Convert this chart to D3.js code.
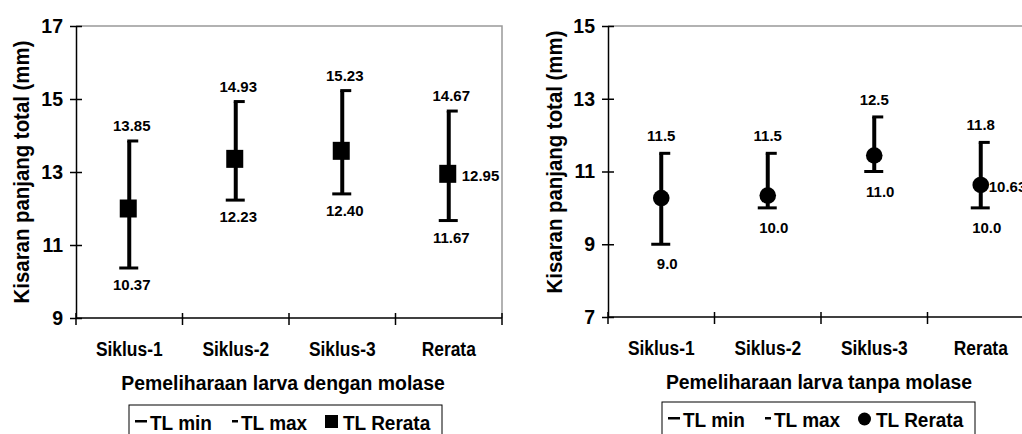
<!DOCTYPE html>
<html>
<head>
<meta charset="utf-8">
<script src="https://cdn.jsdelivr.net/npm/d3@7"></script>
<style>
  body { margin: 0; background: #fff; }
  svg text { font-family: "Liberation Sans", Arial, sans-serif; font-weight: bold; fill: #000; }
</style>
</head>
<body>
<script>
// data
const categories = ['Siklus-1', 'Siklus-2', 'Siklus-3', 'Rerata'];

const molaseMin  = [10.37, 12.23, 12.40, 11.67];
const molaseMax  = [13.85, 14.93, 15.23, 14.67];
const molaseMean = [12.00, 13.36, 13.58, 12.95];

const tanpaMin  = [9.0, 10.0, 11.0, 10.0];
const tanpaMax  = [11.5, 11.5, 12.5, 11.8];
const tanpaMean = [10.27, 10.34, 11.44, 10.63];

const ticksMolase = [9, 11, 13, 15, 17];
const ticksTanpa  = [7, 9, 11, 13, 15];

const legendLabels = ['TL min', 'TL max', 'TL Rerata'];

const svg = d3.select('body').append('svg')
    .attr('width', 1022)
    .attr('height', 434);

// text in the picture is a bit taller than Arial, so stretch it vertically
function putText(sel, x, y, size, sy) {
    return sel.attr('transform', d => {
        const X = typeof x == 'function' ? x(d) : x;
        const Y = typeof y == 'function' ? y(d) : y;
        return `translate(${X},${Y}) scale(1,${sy})`;
    }).style('font-size', size + 'px');
}

function drawChart(cfg) {
    const x = d3.scaleBand().domain(categories).range([cfg.left, cfg.right]);
    const y = d3.scaleLinear().domain(cfg.domain).range([cfg.bottom, cfg.top]);
    const g = svg.append('g');

    const rows = categories.map((c, i) => ({
        cat: c, min: cfg.min[i], max: cfg.max[i], mean: cfg.mean[i], last: i == categories.length - 1
    }));

    // plot frame (gray top / right)
    g.append('path')
        .attr('d', `M${cfg.left},${cfg.top}H${cfg.right}V${cfg.bottom}`)
        .attr('fill', 'none')
        .attr('stroke', '#999')
        .attr('stroke-width', 1.5);

    // y axis
    const yAxis = g.append('g')
        .attr('transform', `translate(${cfg.left},0)`)
        .call(d3.axisLeft(y).tickValues(cfg.ticks).tickSize(6).tickPadding(7).tickSizeOuter(0));
    yAxis.select('.domain').attr('stroke-width', 1.5);
    yAxis.selectAll('.tick line').attr('x1', 6).attr('stroke-width', 1.5);
    yAxis.selectAll('.tick text')
        .style('font-size', '19.5px')
        .attr('font-family', null);

    // x axis line + boundary ticks
    g.append('line')
        .attr('x1', cfg.left).attr('x2', cfg.right)
        .attr('y1', cfg.bottom).attr('y2', cfg.bottom)
        .attr('stroke', '#000').attr('stroke-width', 1.5);
    const bounds = categories.map(c => x(c)).concat([x.range()[1]]);
    g.selectAll('.xtick')
        .data(bounds)
        .enter()
        .append('line')
        .attr('x1', d => d).attr('x2', d => d)
        .attr('y1', cfg.bottom - 5).attr('y2', cfg.bottom + 7)
        .attr('stroke', '#000').attr('stroke-width', 1.5);

    putText(g.selectAll('.cat')
        .data(categories)
        .enter()
        .append('text')
        .attr('text-anchor', 'middle')
        .text(d => d), d => x(d) + x.bandwidth() / 2, cfg.bottom + 38, 17.4, 1.15);

    // axis titles
    putText(g.append('text')
        .attr('text-anchor', 'middle')
        .text(cfg.xTitle), cfg.titleX, cfg.bottom + 72, 19.4, 1.08);

    g.append('text')
        .attr('transform', `translate(${cfg.yTitleX},${cfg.yTitleY}) rotate(-90) scale(1,1.05)`)
        .attr('text-anchor', 'middle')
        .style('font-size', '20.4px')
        .text('Kisaran panjang total (mm)');

    const cx = d => x(d.cat) + x.bandwidth() / 2;

    // error bars
    const bars = g.selectAll('.bar')
        .data(rows)
        .enter()
        .append('g');

    bars.append('line')
        .attr('x1', cx).attr('x2', cx)
        .attr('y1', d => y(d.min)).attr('y2', d => y(d.max))
        .attr('stroke', '#000').attr('stroke-width', 4);
    bars.append('line') // min cap
        .attr('x1', d => cx(d) - 10).attr('x2', d => cx(d) + 9)
        .attr('y1', d => y(d.min)).attr('y2', d => y(d.min))
        .attr('stroke', '#000').attr('stroke-width', 3);
    bars.append('line') // max cap
        .attr('x1', d => cx(d) - 2).attr('x2', d => cx(d) + 9)
        .attr('y1', d => y(d.max)).attr('y2', d => y(d.max))
        .attr('stroke', '#000').attr('stroke-width', 3);

    if (cfg.marker == 'square') {
        bars.append('rect')
            .attr('x', d => cx(d) - 9.5).attr('y', d => y(d.mean) - 9)
            .attr('width', 17).attr('height', 18)
            .attr('fill', '#000');
    } else {
        bars.append('circle')
            .attr('cx', cx).attr('cy', d => y(d.mean))
            .attr('r', 8.3)
            .attr('fill', '#000');
    }

    // value labels
    putText(bars.append('text')
        .attr('text-anchor', 'middle')
        .text(d => d3.format(cfg.fmt)(d.max)),
        d => cx(d) + cfg.maxDx, d => y(d.max) - cfg.maxDy, 15, 1.03);
    putText(bars.append('text')
        .attr('text-anchor', 'middle')
        .text(d => d3.format(cfg.fmt)(d.min)),
        d => cx(d) + cfg.minDx, d => y(d.min) + cfg.minDy, 15, 1.03);
    putText(bars.filter(d => d.last)
        .append('text')
        .text(d => d3.format('.2f')(d.mean)),
        d => cx(d) + cfg.meanDx, d => y(d.mean) + 7, 15, 1.03);

    // legend
    const lg = g.append('g').attr('transform', `translate(${cfg.legendX},${cfg.legendY})`);
    lg.append('rect')
        .attr('x', 0).attr('y', 0)
        .attr('width', 313).attr('height', 40)
        .attr('fill', '#fff').attr('stroke', '#000').attr('stroke-width', 1);
    lg.append('rect').attr('x', 6).attr('y', 15).attr('width', 12).attr('height', 2.5).attr('fill', '#000');
    putText(lg.append('text').text(legendLabels[0]), 21, 25, 19, 1.08);
    lg.append('rect').attr('x', 103).attr('y', 15).attr('width', 6).attr('height', 2.5).attr('fill', '#000');
    putText(lg.append('text').text(legendLabels[1]), 112, 25, 19, 1.08);
    if (cfg.marker == 'square') {
        lg.append('rect').attr('x', 196).attr('y', 10).attr('width', 13).attr('height', 13).attr('fill', '#000');
    } else {
        lg.append('circle').attr('cx', 202.5).attr('cy', 17).attr('r', 6.5).attr('fill', '#000');
    }
    putText(lg.append('text').text(legendLabels[2]), 214, 25, 19, 1.08);
}

drawChart({
    left: 76, right: 502, top: 26, bottom: 318, domain: [9, 17], ticks: ticksMolase,
    min: molaseMin, max: molaseMax, mean: molaseMean, marker: 'square', fmt: '.2f',
    maxDx: 2.5, maxDy: 10, minDx: 2.5, minDy: 22, meanDx: 13,
    xTitle: 'Pemeliharaan larva dengan molase', titleX: 283,
    yTitleX: 29, yTitleY: 172,
    legendX: 129, legendY: 405
});

drawChart({
    left: 608, right: 1034, top: 26, bottom: 317, domain: [7, 15], ticks: ticksTanpa,
    min: tanpaMin, max: tanpaMax, mean: tanpaMean, marker: 'circle', fmt: '.1f',
    maxDx: 0, maxDy: 12, minDx: 6, minDy: 25, meanDx: 8,
    xTitle: 'Pemeliharaan larva tanpa molase', titleX: 819,
    yTitleX: 562, yTitleY: 162,
    legendX: 662, legendY: 402
});
</script>
</body>
</html>
